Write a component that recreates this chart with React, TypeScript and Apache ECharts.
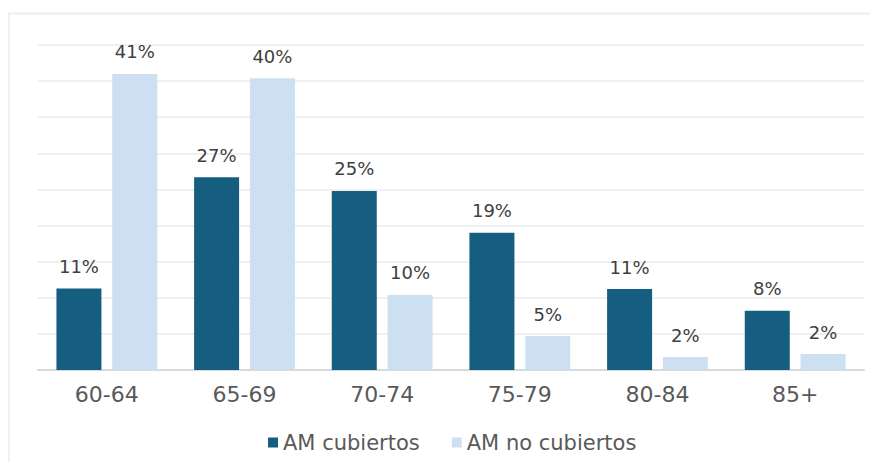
import React, { useEffect, useRef } from "react";
import * as echarts from "echarts";

const categories = ["60-64", "65-69", "70-74", "75-79", "80-84", "85+"];
const cubiertos = [11.3, 26.7, 24.8, 19.0, 11.2, 8.2];
const noCubiertos = [41.0, 40.4, 10.4, 4.7, 1.8, 2.2];
const seriesNames = ["AM cubiertos", "AM no cubiertos"];

const FONT = "'DejaVu Sans', sans-serif";

export default function App() {
  const ref = useRef<HTMLDivElement>(null);
  useEffect(() => {
    if (!ref.current) return;
    const chart = echarts.init(ref.current, undefined, { renderer: "svg" });
    const label = {
      show: true,
      position: "top" as const,
      distance: 13,
      color: "#404040",
      fontSize: 18,
      fontFamily: FONT,
      formatter: (p: any) => Math.round(p.value) + "%",
    };
    chart.setOption({
      animation: false,
      backgroundColor: "#ffffff",
      graphic: [
        {
          type: "rect",
          shape: { x: 0.5, y: 5.5, width: 900, height: 500 },
          style: { fill: "none", stroke: "#eeeeee", lineWidth: 2 },
          silent: true,
        },
      ],
      grid: { left: 30, right: 6, top: 37, bottom: 92, containLabel: false },
      legend: {
        data: seriesNames,
        top: 419,
        left: 255,
        itemWidth: 10,
        itemHeight: 10,
        itemGap: 32,
        icon: "rect",
        textStyle: { color: "#595959", fontSize: 21, fontFamily: FONT },
      },
      xAxis: {
        type: "category",
        data: categories,
        axisLine: { lineStyle: { color: "#d9d9d9", width: 2 } },
        axisTick: { show: false },
        axisLabel: { color: "#595959", fontSize: 22, fontFamily: FONT, margin: 13 },
      },
      yAxis: {
        type: "value",
        min: 0,
        max: 45,
        interval: 5,
        axisLabel: { show: false },
        axisLine: { show: false },
        axisTick: { show: false },
        splitLine: { lineStyle: { color: "#f0f0f0", width: 2 } },
      },
      series: [
        {
          name: seriesNames[0],
          type: "bar",
          data: cubiertos,
          barWidth: 45,
          barGap: "24%",
          itemStyle: { color: "#165E80" },
          label,
        },
        {
          name: seriesNames[1],
          type: "bar",
          data: noCubiertos,
          barWidth: 45,
          itemStyle: { color: "#CCE0F1" },
          label,
        },
      ],
    });
    return () => chart.dispose();
  }, []);
  return <div ref={ref} style={{ width: 862, height: 454 }} />;
}
